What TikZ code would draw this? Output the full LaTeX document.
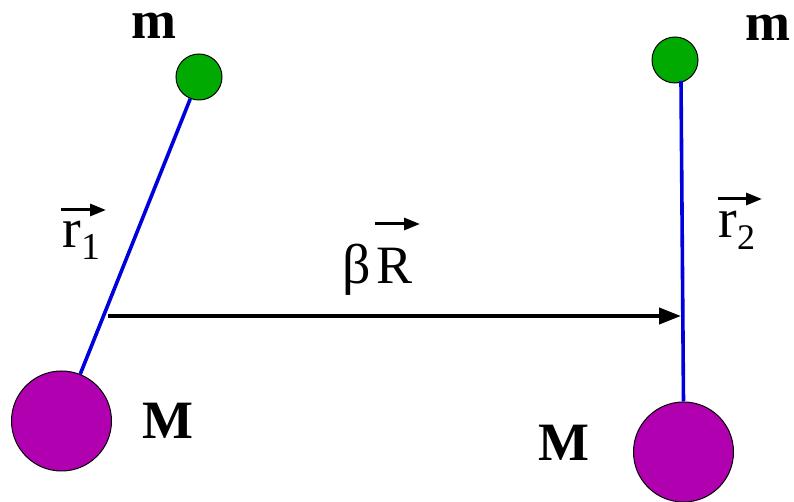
\documentclass[tikz,border=0pt]{standalone}
\usepackage{fontspec}
\setmainfont{Liberation Serif}
\usepackage{tikz}
\usetikzlibrary{arrows.meta, positioning, calc}
\definecolor{mypurple}{RGB}{176,0,176}
\definecolor{mygreen}{RGB}{0,170,0}
\definecolor{myblue}{RGB}{0,0,220}
\tikzset{
  bigmass/.style={circle, draw=black, fill=mypurple, minimum size=50pt,
    inner sep=0pt, line width=0.5pt},
  smallmass/.style={circle, draw=black, fill=mygreen, minimum size=23pt,
    inner sep=0pt, line width=0.5pt},
  masslabel/.style={font=\fontsize{27}{30}\selectfont\bfseries, inner sep=0pt},
  veclabel/.style={font=\fontsize{28}{30}\selectfont, inner sep=0pt, anchor=base west},
  rod/.style={line width=1.8pt, color=myblue},
  arrow/.style={-{Triangle[length=11pt, width=8pt]}, line width=2pt, color=black},
  vec/.style={-{Triangle[length=8pt, width=6pt]}, line width=1.5pt, color=black}
}

\begin{document}
\begin{tikzpicture}[x=0.5pt, y=-0.5pt]
  \useasboundingbox (0,0) rectangle (794,502);

  % Left pendulum
  \node[smallmass] (mL) at (199,77) {};
  \node[bigmass] (ML) at (61.5,421) {};
  \draw[rod] (mL) -- (ML);
  \node[masslabel] (mLlabel) at (154,26) {m};
  \node[masslabel] (MLlabel) at (168,421) {M};

  % Right pendulum
  \node[smallmass] (mR) at (675,60) {};
  \node[bigmass] (MR) at (683.5,452) {};
  \coordinate (rtop) at (681,81);
  \draw[rod] (rtop) -- (MR.north);
  \node[masslabel] (mRlabel) at (768,28) {m};
  \node[masslabel] (MRlabel) at (564,443) {M};

  % Separation vector
  \coordinate (Rtail) at (108,316);
  \coordinate (Rhead) at (681,316);
  \draw[arrow] (Rtail) -- (Rhead);

  % Labels
  \node[veclabel] (r1) at (62,248) {r\raisebox{-6pt}{\fontsize{19}{19}\selectfont 1}};
  \draw[vec] ($(r1.base west)+(-1,-38)$) -- ++(45,0);

  \node[veclabel] (r2) at (718,238) {r\raisebox{-6pt}{\fontsize{18}{18}\selectfont 2}};
  \draw[vec] ($(r2.base west)+(0,-39)$) -- ++(44,0);

  \node[veclabel, font=\fontsize{28}{30}\selectfont] (beta) at (342,284) {β};
  \node[veclabel, font=\fontsize{27}{30}\selectfont] (R) at (376,284) {R};
  \draw[vec] ($(R.base west)+(-1,-60)$) -- ++(45,0);
\end{tikzpicture}
\end{document}
